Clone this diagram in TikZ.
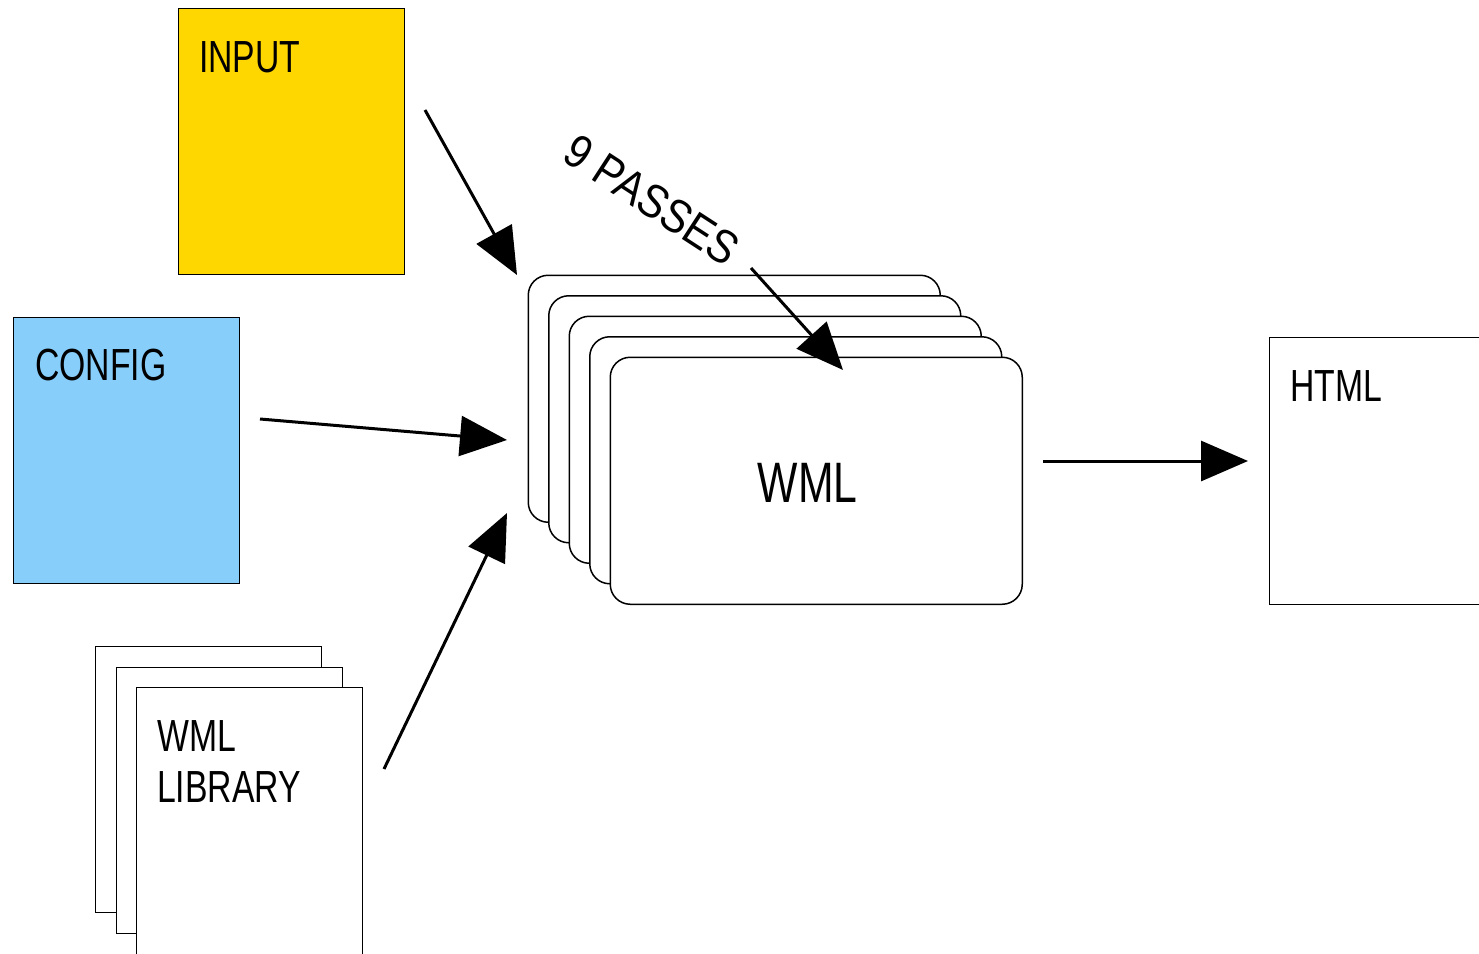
\documentclass[tikz,border=0pt]{standalone}
\usepackage{fontspec}
\setmainfont{Liberation Sans}
\newfontfamily\lab[FakeStretch=0.75]{Liberation Sans}
\newfontfamily\labw[FakeStretch=0.88]{Liberation Sans}
\usetikzlibrary{arrows.meta}
\definecolor{gold}{HTML}{FFD700}
\definecolor{sky}{HTML}{87CEFA}
\tikzset{
  doc/.style={draw=black, line width=1.5pt, fill=white, minimum width=226pt, minimum height=266pt, inner sep=0pt, anchor=north west},
  pass/.style={draw=black, line width=1.5pt, fill=white, rounded corners=20pt, minimum width=412pt, minimum height=247pt, inner sep=0pt, anchor=north west},
  txt/.style={font=\lab\fontsize{45}{51}\selectfont, inner sep=0pt, anchor=base west, align=left},
  flow/.style={line width=3pt, -{Triangle[length=47pt, width=40pt]}}
}
\begin{document}
\begin{tikzpicture}[x=1pt, y=-1pt]
\useasboundingbox (0,0) rectangle (1479,953);
\clip (0,0) rectangle (1479,953);
% input
\node[doc, fill=gold] (input) at (177.5,7.5) {};
\node[txt] (inputt) at (199,72) {INPUT};
% config
\node[doc, fill=sky] (config) at (12.5,316.5) {};
\node[txt] (configt) at (35,380) {CONFIG};
% library stack
\node[doc] (lib1) at (94.5,645.5) {};
\node[doc] (lib2) at (115.5,666.5) {};
\node[doc, minimum height=290pt] (lib3) at (135.5,686.5) {};
\node[txt] (libt) at (157,802) {WML\\LIBRARY};
% WML stack
\node[pass] (w1) at (527.5,274.5) {};
\node[pass] (w2) at (548,295) {};
\node[pass] (w3) at (568.5,315.5) {};
\node[pass] (w4) at (589,336) {};
\node[pass] (w5) at (609.5,356.5) {};
\node[font=\lab\fontsize{57}{60}\selectfont, inner sep=0pt] (wmlt) at ([shift={(-8.5,2)}]w5.center) {WML};
% html
\node[doc, minimum width=240pt, minimum height=267pt] (html) at (1268.5,336.5) {};
\node[txt] (htmlt) at (1290,401) {HTML};
% passes label
\node[font=\labw\fontsize{47}{51}\selectfont, inner sep=0pt, rotate=-33] (passes) at (652,200) {9 PASSES};
% arrow endpoints
\coordinate (a1s) at (425,110);
\coordinate (a1e) at (517,275);
\coordinate (a2s) at (260,419);
\coordinate (a2e) at (507,440);
\coordinate (a3s) at (384,769);
\coordinate (a3e) at (507,513);
\coordinate (a4s) at (751,268);
\coordinate (a4e) at (843,370);
\coordinate (a5s) at (1043,461);
\coordinate (a5e) at (1248,461);
\draw[flow] (a1s) -- (a1e);
\draw[flow] (a2s) -- (a2e);
\draw[flow] (a3s) -- (a3e);
\draw[flow] (a4s) -- (a4e);
\draw[flow] (a5s) -- (a5e);
\end{tikzpicture}
\end{document}
